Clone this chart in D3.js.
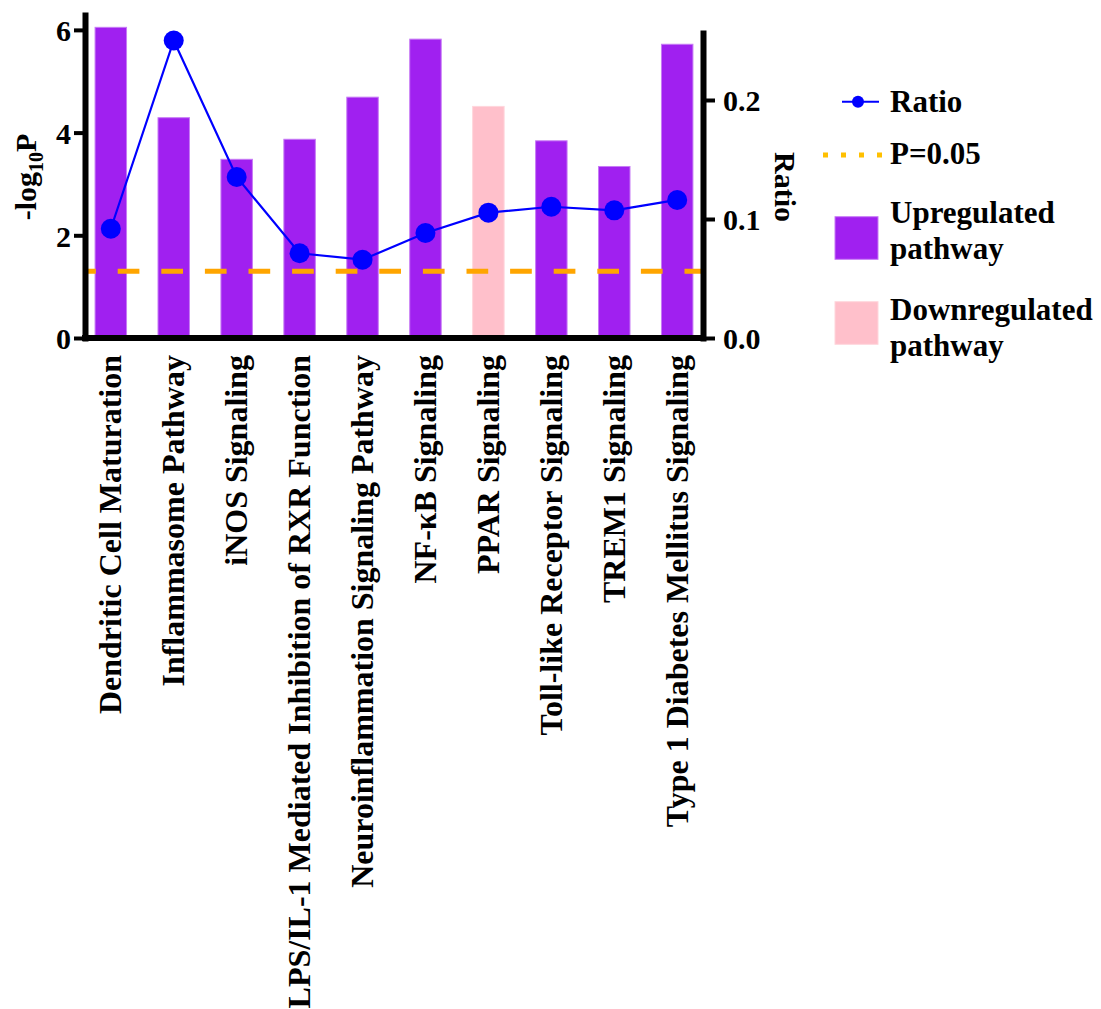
<!DOCTYPE html>
<html>
<head>
<meta charset="utf-8">
<script src="https://cdn.jsdelivr.net/npm/d3@7"></script>
<style>
  html, body { margin: 0; padding: 0; background: #fff; }
  svg text { font-family: "Liberation Serif", "Times New Roman", serif; font-weight: bold; fill: #000; }
</style>
</head>
<body>
<svg id="chart" width="1101" height="1009"></svg>
<script>
// Pathway enrichment: -log10(P) bars with the ratio of overlapping genes on a second axis
const pathways = [
  "Dendritic Cell Maturation",
  "Inflammasome Pathway",
  "iNOS Signaling",
  "LPS/IL-1 Mediated Inhibition of RXR Function",
  "Neuroinflammation Signaling Pathway",
  "NF-\u03BAB Signaling",
  "PPAR Signaling",
  "Toll-like Receptor Signaling",
  "TREM1 Signaling",
  "Type 1 Diabetes Mellitus Signaling"
];
const negLogP = [6.05, 4.29, 3.48, 3.87, 4.69, 5.82, 4.51, 3.84, 3.34, 5.72];
const ratio   = [0.0918, 0.250, 0.1353, 0.0712, 0.0658, 0.0882, 0.1053, 0.1103, 0.1073, 0.116];
const direction = ["up", "up", "up", "up", "up", "up", "down", "up", "up", "up"];
const leftTicks = [0, 2, 4, 6];
const rightTicks = [0, 0.1, 0.2];
const pThreshold = 0.05;

const colors = { up: "#A020F0", down: "#FFC0CB" };
const edgeColors = { up: "#C77BF5", down: "#FFD6DC" };

const svg = d3.select("#chart");

const x = d3.scaleBand().domain(pathways).range([85, 703]).paddingInner(0.5).paddingOuter(0.16);
const yL = d3.scaleLinear().domain([0, 6.29]).range([338, 15]);
const yR = d3.scaleLinear().domain([0, 0.2563]).range([338, 33]);

// Bars
svg.append("g").selectAll("rect").data(pathways).join("rect")
  .attr("x", d => x(d))
  .attr("width", x.bandwidth())
  .attr("y", (d, i) => yL(negLogP[i]))
  .attr("height", (d, i) => yL(0) - yL(negLogP[i]))
  .attr("fill", (d, i) => colors[direction[i]])
  .attr("stroke", (d, i) => edgeColors[direction[i]])
  .attr("stroke-width", 1);

// Significance threshold line
const thr = -Math.log10(pThreshold);
svg.append("line")
  .attr("x1", 85).attr("x2", 703)
  .attr("y1", yL(thr)).attr("y2", yL(thr))
  .attr("stroke", "#FFA500").attr("stroke-width", 5)
  .attr("stroke-dasharray", "21.7,21.9").attr("stroke-dashoffset", 10.9);

// Ratio line and points
const cx = d => x(d) + x.bandwidth() / 2;
svg.append("path")
  .datum(pathways)
  .attr("fill", "none").attr("stroke", "#0000FF").attr("stroke-width", 2.2)
  .attr("d", d3.line().x(d => cx(d)).y((d, i) => yR(ratio[i])));
svg.append("g").selectAll("circle").data(pathways).join("circle")
  .attr("cx", d => cx(d))
  .attr("cy", (d, i) => yR(ratio[i]))
  .attr("r", 10)
  .attr("fill", "#0000FF");

// Axes
function styleAxis(g) {
  g.select(".domain").attr("stroke", "#000").attr("stroke-width", 6).attr("stroke-linecap", "square");
  g.selectAll(".tick line").attr("stroke", "#000").attr("stroke-width", 4);
  g.selectAll(".tick text").attr("font-size", 30).attr("font-family", null);
}
const axL = svg.append("g").attr("transform", "translate(85,0)")
  .call(d3.axisLeft(yL).tickValues(leftTicks).tickFormat(d3.format("d")).tickSize(11).tickSizeOuter(0).tickPadding(3));
styleAxis(axL);
axL.selectAll(".tick text").attr("dy", "0.36em");

const axR = svg.append("g").attr("transform", "translate(703,0)")
  .call(d3.axisRight(yR).tickValues(rightTicks).tickFormat(d3.format(".1f")).tickSize(12).tickSizeOuter(0).tickPadding(8));
styleAxis(axR);
axR.selectAll(".tick text").attr("dy", "0.36em");

const axB = svg.append("g").attr("transform", "translate(0,338)")
  .call(d3.axisBottom(x).tickSize(0).tickSizeOuter(0).tickPadding(0));
axB.select(".domain").attr("stroke", "#000").attr("stroke-width", 6);
axB.select(".domain").attr("d", "M82,0H706");
axB.selectAll(".tick text")
  .attr("font-size", 32).attr("font-family", null)
  .attr("text-anchor", "end")
  .attr("transform", "translate(0,17) rotate(-90)")
  .attr("x", 0).attr("y", 0).attr("dy", "0.33em");

// Axis titles
const tL = svg.append("text")
  .attr("transform", "translate(36,177) rotate(-90)")
  .attr("text-anchor", "middle").attr("font-size", 30);
tL.append("tspan").text("-log");
tL.append("tspan").attr("font-size", 20).attr("dy", 7).text("10");
tL.append("tspan").attr("dy", -7).text("P");

svg.append("text")
  .attr("transform", "translate(775,187) rotate(90)")
  .attr("text-anchor", "middle").attr("font-size", 30)
  .text("Ratio");

// Legend
const lg = svg.append("g");
lg.append("line").attr("x1", 842).attr("x2", 879).attr("y1", 101.7).attr("y2", 101.7)
  .attr("stroke", "#0000FF").attr("stroke-width", 2);
lg.append("circle").attr("cx", 858).attr("cy", 101.7).attr("r", 6).attr("fill", "#0000FF");
lg.append("text").attr("x", 890).attr("y", 111.5).attr("font-size", 31).text("Ratio");

lg.append("line").attr("x1", 823).attr("x2", 884).attr("y1", 155).attr("y2", 155)
  .attr("stroke", "#FFC000").attr("stroke-width", 5).attr("stroke-dasharray", "5,13");
lg.append("text").attr("x", 890).attr("y", 163.5).attr("font-size", 31).text("P=0.05");

const boxes = [
  { key: "up", y: 216.7, lines: ["Upregulated", "pathway"], base: 223.3 },
  { key: "down", y: 301.7, lines: ["Downregulated", "pathway"], base: 320 }
];
boxes.forEach(b => {
  lg.append("rect").attr("x", 835).attr("y", b.y).attr("width", 43).attr("height", 42.6)
    .attr("fill", colors[b.key]).attr("stroke", edgeColors[b.key]).attr("stroke-width", 1);
  const t = lg.append("text").attr("x", 890).attr("y", b.base).attr("font-size", 31);
  b.lines.forEach((s, i) => t.append("tspan").attr("x", 890).attr("dy", i ? 35.5 : 0).text(s));
});
</script>
</body>
</html>
